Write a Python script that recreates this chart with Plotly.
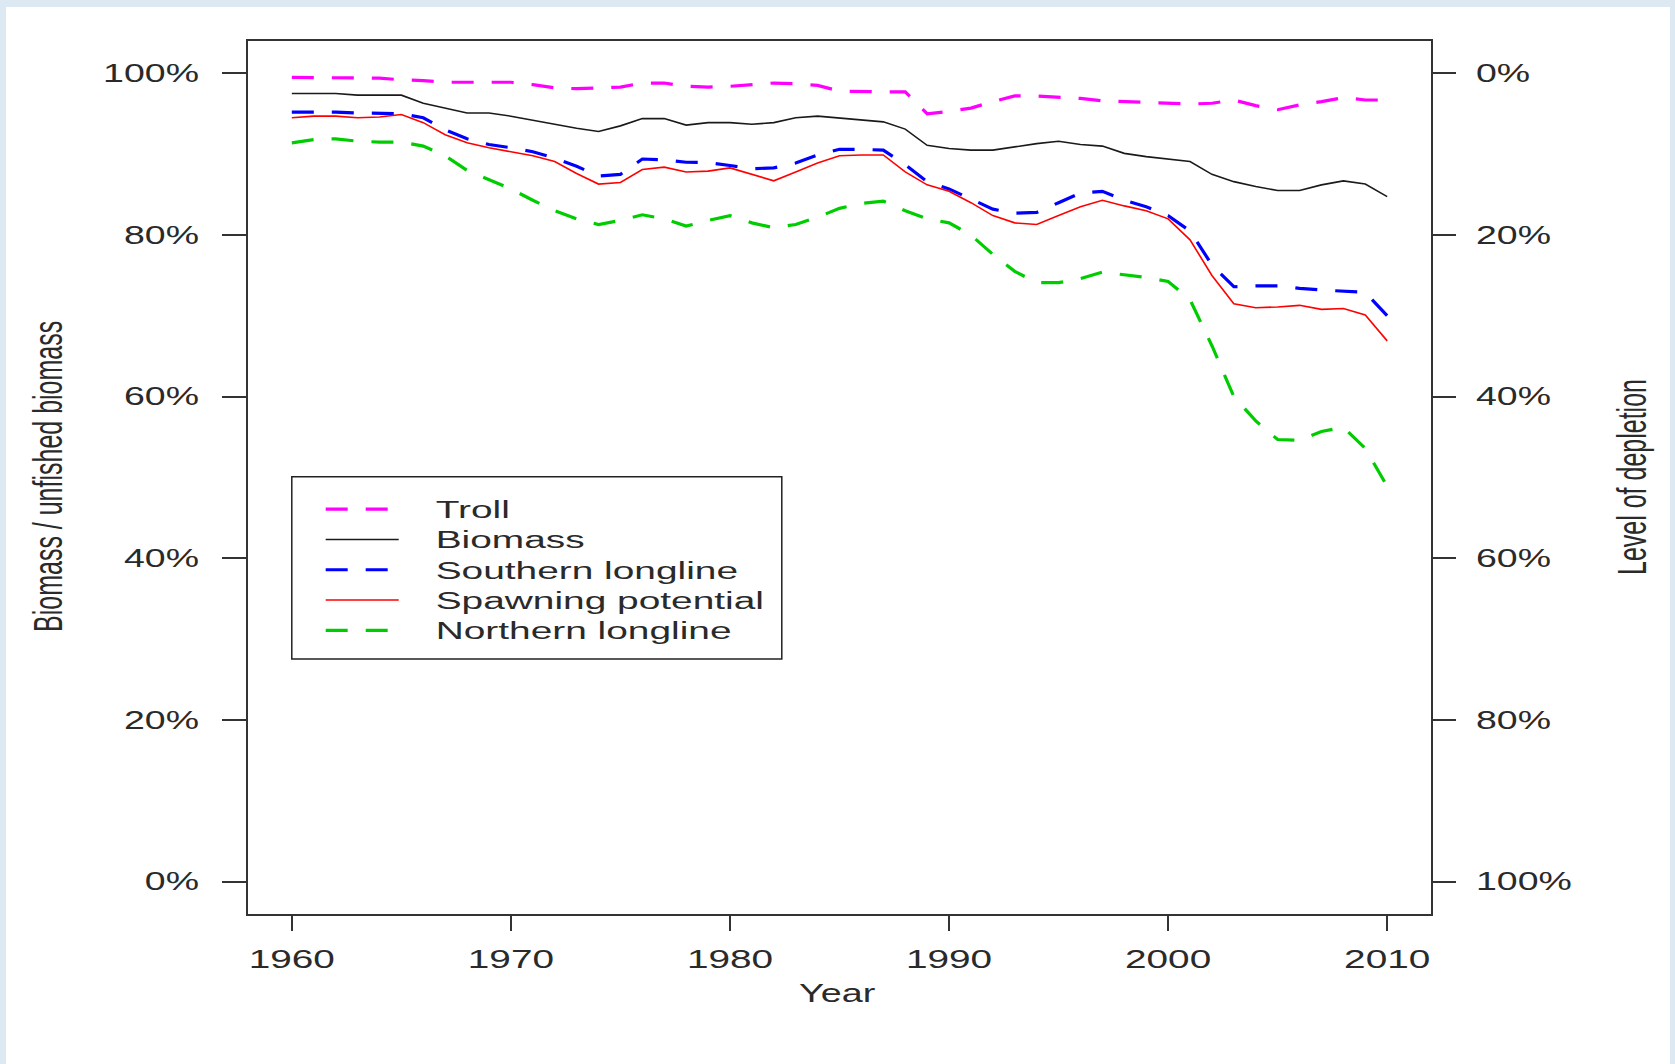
import plotly.graph_objects as go

years = list(range(1960, 2011))

troll = [99.5, 99.5, 99.5, 99.5, 99.4, 99.2, 99.1, 98.9, 98.9, 98.9,
         98.9, 98.6, 98.2, 98.1, 98.2, 98.3, 98.8, 98.8, 98.4, 98.3,
         98.4, 98.6, 98.8, 98.7, 98.5, 97.8, 97.7, 97.7, 97.7, 95.0,
         95.3, 95.7, 96.5, 97.2, 97.2, 97.1, 96.9, 96.6, 96.5, 96.4,
         96.3, 96.2, 96.3, 96.7, 96.0, 95.5, 96.1, 96.5, 97.0, 96.7, 96.7]

biomass = [97.5, 97.5, 97.5, 97.3, 97.3, 97.3, 96.3, 95.7, 95.1, 95.1,
           94.7, 94.2, 93.7, 93.2, 92.8, 93.5, 94.4, 94.4, 93.6, 93.9,
           93.9, 93.7, 93.9, 94.5, 94.7, 94.45, 94.2, 94.0, 93.1, 91.1,
           90.7, 90.5, 90.5, 90.9, 91.3, 91.6, 91.2, 91.0, 90.1, 89.7,
           89.4, 89.1, 87.5, 86.6, 86.0, 85.5, 85.5, 86.2, 86.7, 86.3, 84.75]

southern = [95.2, 95.2, 95.2, 95.1, 95.05, 95.0, 94.5, 93.0, 91.9, 91.2,
            90.8, 90.3, 89.5, 88.5, 87.3, 87.5, 89.4, 89.3, 89.0, 88.95,
            88.6, 88.2, 88.3, 88.9, 89.9, 90.6, 90.6, 90.5, 88.7, 86.6,
            85.7, 84.5, 83.2, 82.7, 82.8, 84.0, 85.2, 85.4, 84.3, 83.5,
            82.4, 80.5, 76.3, 73.6, 73.7, 73.7, 73.4, 73.2, 73.1, 72.9, 70.0]

spawning = [94.5, 94.7, 94.7, 94.5, 94.6, 94.9, 93.9, 92.4, 91.4, 90.8,
            90.3, 89.8, 89.1, 87.6, 86.3, 86.5, 88.1, 88.4, 87.8, 87.9,
            88.3, 87.5, 86.7, 87.8, 88.9, 89.8, 89.9, 89.9, 87.8, 86.2,
            85.4, 84.0, 82.4, 81.5, 81.3, 82.4, 83.5, 84.3, 83.6, 83.0,
            82.0, 79.4, 75.0, 71.5, 71.0, 71.1, 71.3, 70.8, 70.9, 70.1, 66.9]

northern = [91.4, 91.8, 91.9, 91.6, 91.5, 91.5, 91.0, 89.8, 88.0, 86.9,
            85.7, 84.3, 83.0, 82.0, 81.3, 81.8, 82.5, 82.0, 81.1, 81.8,
            82.4, 81.5, 80.9, 81.3, 82.2, 83.3, 83.9, 84.2, 83.0, 82.0,
            81.5, 80.0, 77.6, 75.5, 74.1, 74.1, 74.6, 75.4, 75.1, 74.75,
            74.25, 72.0, 66.3, 60.0, 57.0, 54.7, 54.6, 55.7, 56.2, 53.6, 48.9]

series_names = ["Troll", "Biomass", "Southern longline", "Spawning potential", "Northern longline"]
series_values = [troll, biomass, southern, spawning, northern]
series_colors = ["#ff00ff", "#1a1a1a", "#0000ff", "#ff0000", "#00cd00"]
series_dashed = [True, False, True, False, True]

left_ticks = [0, 20, 40, 60, 80, 100]
left_ticktext = ["0%", "20%", "40%", "60%", "80%", "100%"]
depletion_ticks = [0, 20, 40, 60, 80, 100]
depletion_ticktext = ["0%", "20%", "40%", "60%", "80%", "100%"]
x_ticks = [1960, 1970, 1980, 1990, 2000, 2010]

W, H = 1675, 1064
ML, MR, MT, MB = 248, 244, 41, 150
PW, PH = W - ML - MR, H - MT - MB


def px2x(px):
    return (px - ML) / PW


def py2y(py):
    return (H - MB - py) / PH


FONT = "Liberation Sans, Arial, sans-serif"
TXT = "#2a2a2a"

fig = go.Figure()
for name, vals, col, dashed in zip(series_names, series_values, series_colors, series_dashed):
    fig.add_trace(go.Scatter(
        x=years, y=vals, name=name, mode="lines",
        line=dict(color=col, width=3.2 if dashed else 1.6,
                  dash="22px,18px" if dashed else "solid"),
    ))

# secondary (depletion) axis
fig.add_trace(go.Scatter(x=[], y=[], yaxis="y2", showlegend=False, hoverinfo="skip"))

fig.update_layout(
    template="none",
    width=W, height=H,
    margin=dict(l=ML, r=MR, t=MT, b=MB, pad=0),
    paper_bgcolor="#dde9f2",
    plot_bgcolor="white",
    font=dict(family=FONT, color=TXT),
    showlegend=True,
    legend=dict(
        x=px2x(320.7), y=py2y(489), xanchor="left", yanchor="top",
        bgcolor="rgba(0,0,0,0)", borderwidth=0,
        font=dict(family=FONT, size=21, color=TXT),
        itemwidth=73, traceorder="normal",
    ),
    xaxis=dict(
        range=[1958, 2012], tickvals=x_ticks, ticktext=[str(v) for v in x_ticks],
        showgrid=False, zeroline=False, automargin=False,
        showline=True, mirror=True, linecolor="#333333", linewidth=2,
        ticks="outside", ticklen=15, tickwidth=1.6, tickcolor="#333333",
        tickfont=dict(family=FONT, size=25, color=TXT),
        ticklabelstandoff=7,
    ),
    yaxis=dict(
        range=[-4, 104], tickvals=left_ticks, ticktext=left_ticktext,
        showgrid=False, zeroline=False, automargin=False,
        showline=True, mirror=True, linecolor="#333333", linewidth=2,
        ticks="outside", ticklen=24, tickwidth=1.6, tickcolor="#333333",
        tickfont=dict(family=FONT, size=25, color=TXT),
        ticklabelstandoff=18,
    ),
    yaxis2=dict(
        overlaying="y", side="right", anchor="x",
        range=[104, -4], tickvals=depletion_ticks, ticktext=depletion_ticktext,
        showgrid=False, zeroline=False, automargin=False, showline=False,
        ticks="outside", ticklen=24, tickwidth=1.6, tickcolor="#333333",
        tickfont=dict(family=FONT, size=25, color=TXT),
        ticklabelstandoff=15,
    ),
    shapes=[
        # white page area inside light-blue frame
        dict(type="rect", xref="paper", yref="paper", layer="below",
             x0=px2x(6), x1=px2x(1670), y0=py2y(H + 5), y1=py2y(7),
             fillcolor="white", line=dict(width=0)),
        # legend box
        dict(type="rect", xref="paper", yref="paper", layer="above",
             x0=px2x(291.8), x1=px2x(781.8), y0=py2y(659), y1=py2y(476.7),
             fillcolor="rgba(0,0,0,0)", line=dict(color="#222222", width=1.5)),
    ],
    annotations=[
        dict(text="Year", xref="paper", yref="paper", x=px2x(837), y=py2y(993),
             xanchor="center", yanchor="middle", showarrow=False,
             font=dict(family=FONT, size=26, color=TXT)),
        dict(text="Biomass / unfished biomass", xref="paper", yref="paper",
             x=px2x(48), y=py2y(477), xanchor="center", yanchor="middle",
             textangle=-90, showarrow=False,
             font=dict(family=FONT, size=25, color=TXT)),
        dict(text="Level of depletion", xref="paper", yref="paper",
             x=px2x(1632), y=py2y(477), xanchor="center", yanchor="middle",
             textangle=-90, showarrow=False,
             font=dict(family=FONT, size=25, color=TXT)),
    ],
)

# The reference image is horizontally stretched; widen the SVG text to match.
post_js = """
(function(){
  document.body.style.margin = '0';
  document.body.style.padding = '0';
  var gd = document.getElementById('{plot_id}');
  if (!gd) return;
  var texts = gd.querySelectorAll('.main-svg text');
  texts.forEach(function(t){
    if (t.getAttribute('data-stretched')) return;
    var s = 0, sy = 1, dx = 0, dir = 'x';
    if (t.closest('.xtick')) s = 1.55;
    else if (t.closest('.ytick') || t.closest('.y2tick')) s = 1.5;
    else if (t.classList.contains('legendtext')) { s = 1.85; sy = 1.1; dx = 32; }
    else if (t.classList.contains('annotation-text')) {
      if (t.textContent === 'Year') s = 1.45; else { s = 1.6; dir = 'y'; }
    }
    if (!s) return;
    var b = t.getBBox();
    var anchor = t.getAttribute('text-anchor') || 'start';
    var tr = t.getAttribute('transform') || '';
    var extra;
    if (dir === 'x') {
      var ox = anchor === 'end' ? b.x + b.width : (anchor === 'middle' ? b.x + b.width / 2 : b.x);
      var oy = b.y + b.height / 2;
      extra = 'translate(' + (ox + dx) + ',' + oy + ') scale(' + s + ',' + sy + ') translate(' + (-ox) + ',' + (-oy) + ')';
    } else {
      var oy2 = b.y + b.height / 2;
      extra = 'translate(0,' + oy2 + ') scale(1,' + s + ') translate(0,' + (-oy2) + ')';
    }
    t.setAttribute('transform', (tr + ' ' + extra).trim());
    t.setAttribute('data-stretched', '1');
  });
  gd.querySelectorAll('.legend, .legend .scrollbox').forEach(function(e){
    e.removeAttribute('clip-path');
  });
})();
"""

fig.write_html("out.html", config={"displayModeBar": False, "responsive": False},
               post_script=post_js)
